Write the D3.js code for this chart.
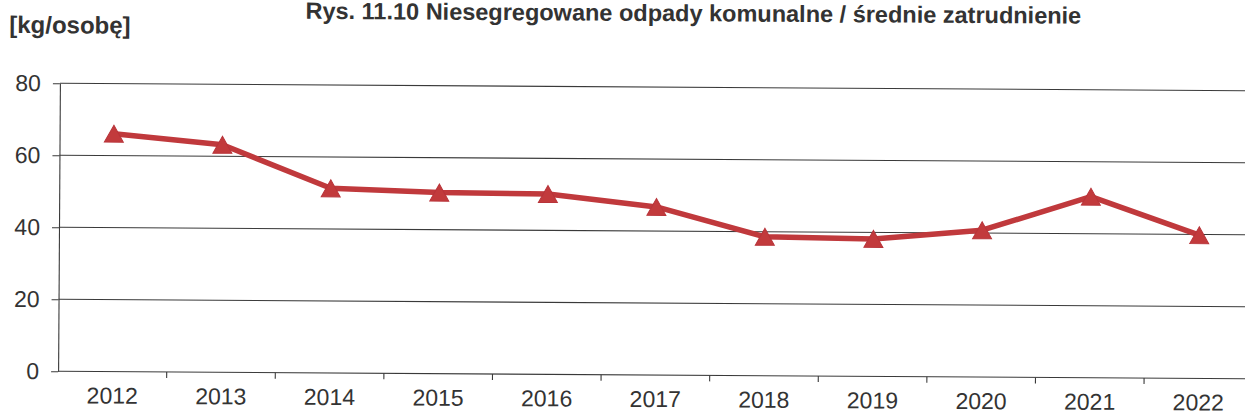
<!DOCTYPE html>
<html>
<head>
<meta charset="utf-8">
<script src="https://cdnjs.cloudflare.com/ajax/libs/d3/7.8.5/d3.min.js"></script>
<style>
  html, body { margin: 0; padding: 0; background: #fff; }
  svg { display: block; }
  text { font-family: "Liberation Sans", Arial, sans-serif; fill: #333; }
</style>
</head>
<body>
<svg id="chart" width="1245" height="415"></svg>
<script>
const years = ["2012","2013","2014","2015","2016","2017","2018","2019","2020","2021","2022"];
const values = [66.1, 63.2, 51.3, 50.3, 50.1, 46.7, 38.6, 38.2, 40.8, 50.3, 39.8];
const yTicks = [0, 20, 40, 60, 80];
const titleText = "Rys. 11.10 Niesegregowane odpady komunalne  / średnie zatrudnienie";
const unitText = "[kg/osobę]";

const W = 1245, H = 415;
const svg = d3.select("#chart");
svg.append("rect").attr("width", W).attr("height", H).attr("fill", "#fff");

const g = svg.append("g").attr("transform", "rotate(0.36, 650, 230)");

const x0 = 59, band = 108.6;
const x = d3.scaleBand().domain(years).range([x0, x0 + band * years.length]).paddingInner(0).paddingOuter(0);
const y = d3.scaleLinear().domain([0, 80]).range([375, 87]);

// gridlines
g.append("g").selectAll("line").data(yTicks).join("line")
  .attr("x1", x0).attr("x2", W + 20)
  .attr("y1", d => y(d)).attr("y2", d => y(d))
  .attr("stroke", "#3a3a3a").attr("stroke-width", 1.1);

// y axis
const yAxis = d3.axisLeft(y).tickValues(yTicks).tickSize(7).tickPadding(12).tickSizeOuter(0);
const ya = g.append("g").attr("transform", `translate(${x0},0)`).call(yAxis);
ya.select(".domain").attr("stroke", "#3a3a3a").attr("stroke-width", 1.1);
ya.selectAll(".tick line").attr("stroke", "#3a3a3a");
ya.selectAll(".tick text").attr("font-size", 23).attr("fill", "#333")
  .attr("font-family", "Liberation Sans, Arial, sans-serif");

// x axis
const xAxis = d3.axisBottom(x).tickSize(0).tickPadding(0);
const xa = g.append("g").attr("transform", `translate(0,${y(0)})`).call(xAxis);
xa.select(".domain").remove();
xa.selectAll(".tick text").attr("font-size", 23).attr("fill", "#333")
  .attr("font-family", "Liberation Sans, Arial, sans-serif")
  .attr("dy", null).attr("y", 32);
// category boundary ticks
g.append("g").selectAll("line").data(years.slice(1)).join("line")
  .attr("x1", d => x(d)).attr("x2", d => x(d))
  .attr("y1", y(0)).attr("y2", y(0) + 6)
  .attr("stroke", "#3a3a3a").attr("stroke-width", 1.1);

const cx = d => x(d) + x.bandwidth() / 2;
const red = "#c0393c";

// line
const line = d3.line().x((d, i) => cx(years[i])).y(d => y(d));
g.append("path").datum(values).attr("d", line)
  .attr("fill", "none").attr("stroke", red).attr("stroke-width", 5.5)
  .attr("stroke-linejoin", "round").attr("stroke-linecap", "round");

// markers
const tw = 19, th = 17;
g.append("g").selectAll("path").data(values).join("path")
  .attr("d", `M0,${-th/2}L${tw/2},${th/2}L${-tw/2},${th/2}Z`)
  .attr("transform", (d, i) => `translate(${cx(years[i])},${y(d)})`)
  .attr("fill", "#c23a3c").attr("stroke", "#b8343a").attr("stroke-width", 1);

// title and unit
g.append("text").attr("x", 692).attr("y", 21).attr("text-anchor", "middle")
  .attr("font-size", 23.5).attr("font-weight", "bold").attr("fill", "#222")
  .text(titleText);
g.append("text").attr("x", 8).attr("y", 37).attr("text-anchor", "start")
  .attr("font-size", 24).attr("font-weight", "bold").attr("fill", "#222")
  .text(unitText);
</script>
</body>
</html>
